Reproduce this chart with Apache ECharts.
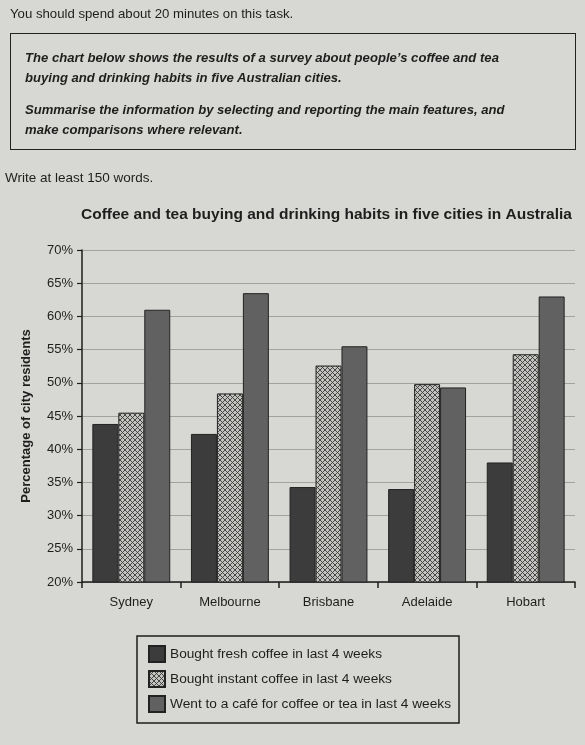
<!DOCTYPE html>
<html>
<head>
<meta charset="utf-8">
<script src="https://cdn.jsdelivr.net/npm/echarts@6/dist/echarts.min.js"></script>
<style>
  html, body { margin: 0; padding: 0; }
  body { width: 585px; height: 745px; background: #d7d7d3; position: relative; overflow: hidden;
         font-family: "Liberation Sans", Arial, sans-serif; color: #1e1e1e; }
  .t { position: absolute; white-space: nowrap; }
  #intro { left: 10px; top: 6px; font-size: 13.2px; }
  #box { position: absolute; left: 10px; top: 33px; width: 566px; height: 117px; border: 1.5px solid #222; box-sizing: border-box; }
  .bi { font-weight: bold; font-style: italic; font-size: 13.1px; left: 25px; }
  #write { left: 5px; top: 170px; font-size: 13.5px; }
  #chart { position: absolute; left: 0; top: 0; width: 585px; height: 745px; }
</style>
</head>
<body>
<div id="chart"></div>
<div class="t" id="intro">You should spend about 20 minutes on this task.</div>
<div id="box"></div>
<div class="t bi" style="top:50px">The chart below shows the results of a survey about people’s coffee and tea</div>
<div class="t bi" style="top:70px">buying and drinking habits in five Australian cities.</div>
<div class="t bi" style="top:102px">Summarise the information by selecting and reporting the main features, and</div>
<div class="t bi" style="top:122px">make comparisons where relevant.</div>
<div class="t" id="write">Write at least 150 words.</div>
<script>
const chartTitle = 'Coffee and tea buying and drinking habits in five cities in Australia';
const cities = ['Sydney', 'Melbourne', 'Brisbane', 'Adelaide', 'Hobart'];
const seriesNames = [
  'Bought fresh coffee in last 4 weeks',
  'Bought instant coffee in last 4 weeks',
  'Went to a café for coffee or tea in last 4 weeks'
];
const freshCoffee = [43.8, 42.3, 34.3, 34.0, 38.0];
const instantCoffee = [45.5, 48.4, 52.6, 49.8, 54.3];
const cafeVisit = [61.0, 63.5, 55.5, 49.3, 63.0];
const yTicks = { min: 20, max: 70, interval: 5 };

// crosshatch pattern for instant coffee
const pc = document.createElement('canvas');
pc.width = 5; pc.height = 5;
const g = pc.getContext('2d');
g.fillStyle = '#c2c2be';
g.fillRect(0, 0, 5, 5);
g.strokeStyle = '#3a3a3a';
g.lineWidth = 0.9;
g.beginPath();
g.moveTo(0, 0); g.lineTo(5, 5);
g.moveTo(5, 0); g.lineTo(0, 5);
g.stroke();

const chart = echarts.init(document.getElementById('chart'), null, { renderer: 'canvas' });
const fontFamily = '"Liberation Sans", Arial, sans-serif';
const mkSeries = (name, data, color) => ({
  name, type: 'bar', data,
  barGap: '0%', barCategoryGap: '21%',
  itemStyle: { color, borderColor: '#222', borderWidth: 1 },
  emphasis: { disabled: true }
});
chart.setOption({
  backgroundColor: 'transparent',
  animation: false,
  textStyle: { fontFamily },
  title: {
    text: chartTitle, left: 76, top: 202,
    textStyle: { fontSize: 15.5, fontWeight: 'bold', color: '#1e1e1e', fontFamily }
  },
  grid: { left: 82, right: 10, top: 250, bottom: 163 },
  xAxis: {
    type: 'category', data: cities,
    axisLine: { lineStyle: { color: '#1e1e1e', width: 1.5 } },
    axisTick: { show: true, length: 6, lineStyle: { color: '#1e1e1e', width: 1.5 } },
    axisLabel: { margin: 14, fontSize: 13, color: '#1e1e1e', fontFamily }
  },
  yAxis: {
    type: 'value', min: yTicks.min, max: yTicks.max, interval: yTicks.interval,
    name: 'Percentage of city residents', nameLocation: 'middle', nameGap: 49,
    nameTextStyle: { fontSize: 13, fontWeight: 'bold', color: '#1e1e1e', fontFamily, padding: [0, 0, 0, 0] },
    axisLine: { show: true, lineStyle: { color: '#1e1e1e', width: 1.5 } },
    axisTick: { show: true, length: 5, lineStyle: { color: '#1e1e1e', width: 1.2 } },
    axisLabel: { formatter: '{value}%', margin: 9, fontSize: 13, color: '#1e1e1e', fontFamily },
    splitLine: { lineStyle: { color: '#a2a2a0', width: 1 } }
  },
  legend: {
    orient: 'vertical', left: 137, top: 636,
    padding: [9, 8, 10, 11],
    borderColor: '#1e1e1e', borderWidth: 1.5,
    itemWidth: 16, itemHeight: 16, itemGap: 7,
    icon: 'rect',
    selectedMode: false,
    textStyle: { fontSize: 13.7, color: '#1e1e1e', fontFamily },
    data: seriesNames
  },
  series: [
    mkSeries(seriesNames[0], freshCoffee, '#3c3c3c'),
    mkSeries(seriesNames[1], instantCoffee, { image: pc, repeat: 'repeat' }),
    mkSeries(seriesNames[2], cafeVisit, '#616161')
  ]
});
</script>
</body>
</html>
